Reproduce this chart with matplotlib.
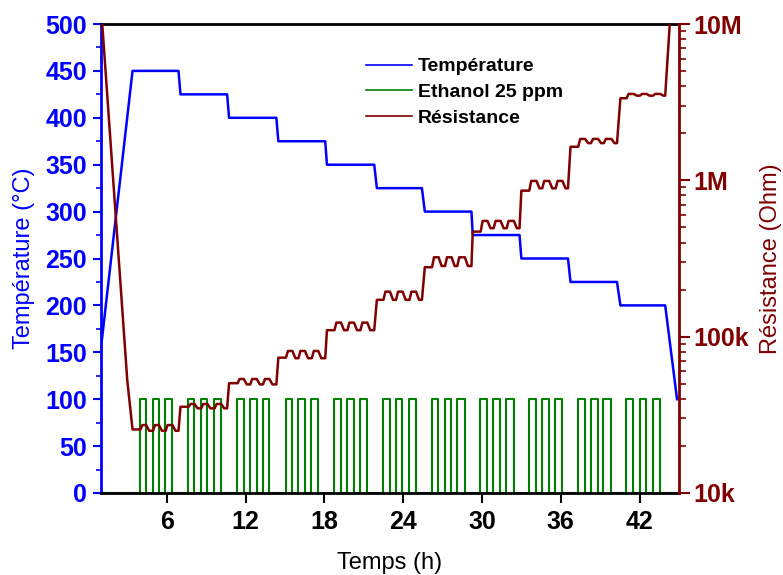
import matplotlib
matplotlib.use("Agg")
import matplotlib.pyplot as plt
from matplotlib.lines import Line2D
from matplotlib.ticker import FixedLocator, FixedFormatter, NullFormatter

# ---------------- data ----------------
# temperature plateaus
step_temp = [450, 425, 400, 375, 350, 325, 300, 275, 250, 225, 200]
step_start = [3.4, 7.05, 10.75, 14.5, 18.2, 22.0, 25.65, 29.3, 33.0, 36.74, 40.54]
step_end = [6.9, 10.6, 14.35, 18.07, 21.8, 25.43, 29.2, 32.86, 36.55, 40.28, 43.95]
temp_initial = (1.0, 155)
temp_final = (44.85, 100)

# ethanol pulses (on / off times, h); level in left-axis units
pulse_on = [3.97, 4.93, 5.89, 7.64, 8.60, 9.62, 11.37, 12.33, 13.30,
            15.05, 16.00, 17.02, 18.74, 19.73, 20.72, 22.47, 23.43, 24.45,
            26.17, 27.16, 28.09, 29.87, 30.86, 31.85, 33.57, 34.56, 35.58,
            37.30, 38.27, 39.25, 40.98, 42.00, 43.00]
pulse_off = [4.42, 5.39, 6.42, 8.10, 9.08, 10.13, 11.85, 12.84, 13.80,
             15.55, 16.51, 17.52, 19.25, 20.24, 21.25, 22.98, 23.94, 24.96,
             26.68, 27.67, 28.68, 30.40, 31.40, 32.41, 34.13, 35.10, 36.11,
             37.83, 38.82, 39.84, 41.53, 42.51, 43.56]
pulse_level = 100

# resistance per plateau (Ohm): level at plateau start, during gas (hump), between pulses (dip)
res_start = [25.5e3, 35.6e3, 50.4e3, 73.4e3, 110e3, 172e3, 278e3, 470e3, 859e3, 1.64e6, 3.35e6]
res_hump = [27.2e3, 37.1e3, 53.6e3, 81e3, 123e3, 194e3, 322e3, 550e3, 991e3, 1.84e6, 3.57e6]
res_dip = [25.0e3, 34.8e3, 49.5e3, 72.8e3, 110e3, 172e3, 283e3, 494e3, 889e3, 1.73e6, 3.48e6]
res_initial = [(1.0, 1.3e7), (3.0, 52.5e3)]
res_final = (44.45, 1.6e7)

x_ticks = [6, 12, 18, 24, 30, 36, 42]
y_ticks = [0, 50, 100, 150, 200, 250, 300, 350, 400, 450, 500]
r_ticks = [1e4, 1e5, 1e6, 1e7]
r_tick_labels = ["10k", "100k", "1M", "10M"]

BLUE = "#0000FF"
GREEN = "#008000"
RED = "#800000"

plt.rcParams["font.family"] = ["Liberation Sans", "DejaVu Sans"]

# ---------------- build polylines ----------------
tx, ty = [temp_initial[0]], [temp_initial[1]]
for T, s, e in zip(step_temp, step_start, step_end):
    tx += [s, e]
    ty += [T, T]
tx.append(temp_final[0]); ty.append(temp_final[1])

gx, gy = [1.0], [0]
for on, off in zip(pulse_on, pulse_off):
    gx += [on, on, off, off]
    gy += [0, pulse_level, pulse_level, 0]
gx.append(45.0); gy.append(0)

rx = [p[0] for p in res_initial]
ry = [p[1] for p in res_initial]
for i, (s, e) in enumerate(zip(step_start, step_end)):
    rx.append(s); ry.append(res_start[i])
    ons = [o for o in pulse_on if s < o < e]
    offs = [f for o, f in zip(pulse_on, pulse_off) if s < o < e]
    first = True
    for on, off in zip(ons, offs):
        base = res_start[i] if first else res_dip[i]
        rx += [on + 0.03, on + 0.18, off + 0.02, off + 0.25]
        ry += [base, res_hump[i], res_hump[i], res_dip[i]]
        first = False
    rx.append(e); ry.append(res_dip[i])
rx.append(res_final[0]); ry.append(res_final[1])

# ---------------- figure ----------------
fig = plt.figure(figsize=(7.83, 5.75), dpi=100)
ax = fig.add_axes([101 / 783, 1 - 493 / 575, (679 - 101) / 783, (493 - 24) / 575])
ax2 = ax.twinx()

ax.plot(gx, gy, color=GREEN, lw=1.5, zorder=2)
ax.plot(tx, ty, color=BLUE, lw=1.8, zorder=3)
ax2.plot(rx, ry, color=RED, lw=1.8, zorder=3)

ax.set_xlim(1, 45)
ax.set_ylim(0, 500)
ax2.set_yscale("log")
ax2.set_ylim(1e4, 1e7)

# spines
for sp in ["left", "right", "top", "bottom"]:
    ax2.spines[sp].set_visible(sp == "right")
ax.spines["right"].set_visible(False)
ax.spines["left"].set_color(BLUE)
ax.spines["left"].set_linewidth(2)
ax.spines["top"].set_linewidth(2)
ax.spines["bottom"].set_linewidth(2)
ax2.spines["right"].set_color(RED)
ax2.spines["right"].set_linewidth(2)

TICK_FS = 18

# x axis
ax.set_xticks(x_ticks)
ax.tick_params(axis="x", direction="out", length=7, width=1.5, colors="black",
               labelsize=TICK_FS, pad=5, top=False)
for lbl in ax.get_xticklabels():
    lbl.set_fontweight("bold")

# left axis
ax.set_yticks(y_ticks)
ax.yaxis.set_minor_locator(FixedLocator([v + 25 for v in y_ticks[:-1]]))
ax.tick_params(axis="y", which="major", direction="out", length=6, width=1.5,
               colors=BLUE, labelsize=TICK_FS, pad=4)
ax.tick_params(axis="y", which="minor", direction="out", length=3.5, width=1.2, colors=BLUE)
for lbl in ax.get_yticklabels():
    lbl.set_fontweight("bold")

# right axis
ax2.yaxis.set_major_locator(FixedLocator(r_ticks))
ax2.yaxis.set_major_formatter(FixedFormatter(r_tick_labels))
minor = [m * d for d in [1e4, 1e5, 1e6] for m in range(2, 10)]
ax2.yaxis.set_minor_locator(FixedLocator(minor))
ax2.yaxis.set_minor_formatter(NullFormatter())
ax2.tick_params(axis="y", which="major", direction="out", length=8, width=1.5,
                colors=RED, labelsize=TICK_FS, pad=2)
ax2.tick_params(axis="y", which="minor", direction="out", length=5, width=1.2, colors=RED)
for lbl in ax2.get_yticklabels():
    lbl.set_fontweight("bold")

ax.set_xlabel("Temps (h)", fontsize=17, color="black")
ax.xaxis.set_label_coords(0.5, -0.125)
ax.set_ylabel("Température (°C)", fontsize=17, color=BLUE)
ax.yaxis.set_label_coords(-0.115, 0.5)
ax2.set_ylabel("Résistance (Ohm)", fontsize=17, color=RED)
ax2.yaxis.set_label_coords(1.14, 0.5)

handles = [Line2D([], [], color=BLUE, lw=1.2),
           Line2D([], [], color=GREEN, lw=1.2),
           Line2D([], [], color=RED, lw=1.2)]
labels = ["Température", "Ethanol 25 ppm", "Résistance"]
leg = ax2.legend(handles, labels, loc="upper left", bbox_to_anchor=(0.458, 0.928),
                 frameon=False, prop={"weight": "bold", "size": 14},
                 handlelength=2.4, handletextpad=0.3, labelspacing=0.42,
                 borderaxespad=0, borderpad=0)

fig.savefig("out.png", dpi=100)
